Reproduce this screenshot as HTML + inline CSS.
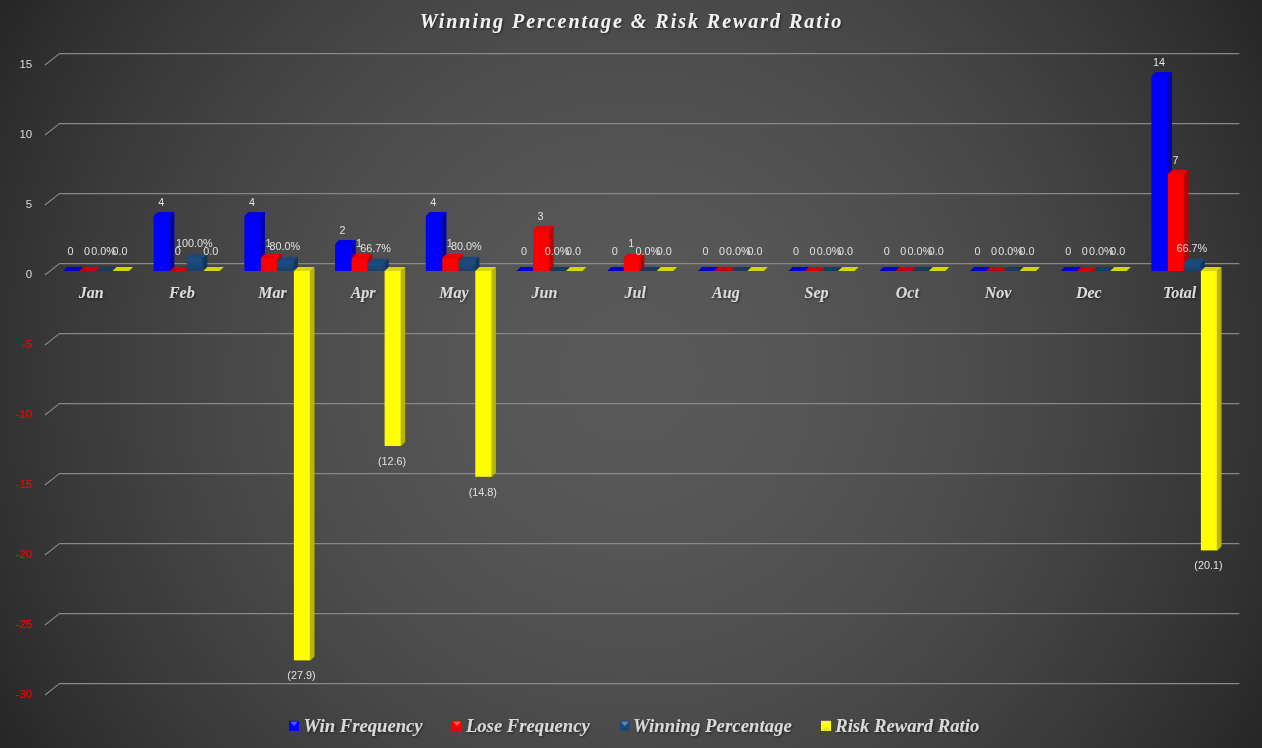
<!DOCTYPE html>
<html lang="en"><head><meta charset="utf-8"><title>Winning Percentage &amp; Risk Reward Ratio</title>
<style>html,body{margin:0;padding:0;background:#262626;overflow:hidden}svg{display:block}.ax{font-family:"Liberation Sans",sans-serif;font-size:11.5px;fill:#d9d9d9;text-anchor:end}.neg{fill:#ff0000;stroke:#ff0000;stroke-width:0.15px}.dl{font-family:"Liberation Sans",sans-serif;font-size:10.8px;fill:#e0e0e0;text-anchor:middle}.cat{font-family:"Liberation Serif",serif;font-weight:bold;font-style:italic;font-size:16px;fill:#dadada;text-anchor:middle}.ttl{font-family:"Liberation Serif",serif;font-weight:bold;font-style:italic;font-size:20px;fill:#f2f2f2;text-anchor:middle;letter-spacing:1.97px}.lg{font-family:"Liberation Serif",serif;font-weight:bold;font-style:italic;font-size:18.67px;fill:#d9d9d9}</style></head><body>
<svg width="1262" height="748" viewBox="0 0 1262 748">
<defs><radialGradient id="bg" gradientUnits="userSpaceOnUse" cx="631" cy="374" r="733.5"><stop offset="0.000" stop-color="#595959"/><stop offset="0.025" stop-color="#595959"/><stop offset="0.050" stop-color="#595959"/><stop offset="0.075" stop-color="#595959"/><stop offset="0.100" stop-color="#585858"/><stop offset="0.125" stop-color="#585858"/><stop offset="0.150" stop-color="#575757"/><stop offset="0.175" stop-color="#575757"/><stop offset="0.200" stop-color="#565656"/><stop offset="0.225" stop-color="#565656"/><stop offset="0.250" stop-color="#555555"/><stop offset="0.275" stop-color="#545454"/><stop offset="0.300" stop-color="#535353"/><stop offset="0.325" stop-color="#525252"/><stop offset="0.350" stop-color="#515151"/><stop offset="0.375" stop-color="#505050"/><stop offset="0.400" stop-color="#4f4f4f"/><stop offset="0.425" stop-color="#4e4e4e"/><stop offset="0.450" stop-color="#4d4d4d"/><stop offset="0.475" stop-color="#4c4c4c"/><stop offset="0.500" stop-color="#4a4a4a"/><stop offset="0.525" stop-color="#494949"/><stop offset="0.550" stop-color="#484848"/><stop offset="0.575" stop-color="#464646"/><stop offset="0.600" stop-color="#454545"/><stop offset="0.625" stop-color="#434343"/><stop offset="0.650" stop-color="#424242"/><stop offset="0.675" stop-color="#404040"/><stop offset="0.700" stop-color="#3e3e3e"/><stop offset="0.725" stop-color="#3c3c3c"/><stop offset="0.750" stop-color="#3b3b3b"/><stop offset="0.775" stop-color="#393939"/><stop offset="0.800" stop-color="#373737"/><stop offset="0.825" stop-color="#353535"/><stop offset="0.850" stop-color="#333333"/><stop offset="0.875" stop-color="#313131"/><stop offset="0.900" stop-color="#2f2f2f"/><stop offset="0.925" stop-color="#2d2d2d"/><stop offset="0.950" stop-color="#2a2a2a"/><stop offset="0.975" stop-color="#282828"/><stop offset="1.000" stop-color="#262626"/></radialGradient><filter id="sh" x="-10%" y="-30%" width="120%" height="170%"><feDropShadow dx="1.2" dy="1.2" stdDeviation="1" flood-color="#000" flood-opacity="0.5"/></filter><linearGradient id="nv" x1="0" y1="0" x2="0" y2="1"><stop offset="0" stop-color="#1d5084"/><stop offset="1" stop-color="#17406b"/></linearGradient></defs>
<rect width="1262" height="748" fill="url(#bg)"/>
<g fill="none" stroke="#888888" stroke-width="1.15" stroke-linejoin="round" stroke-linecap="round">
<polyline points="45.3,64.7 59.4,53.6 1239,53.6"/>
<polyline points="45.3,134.7 59.4,123.6 1239,123.6"/>
<polyline points="45.3,204.7 59.4,193.6 1239,193.6"/>
<polyline points="45.3,274.7 59.4,263.6 1239,263.6"/>
<polyline points="45.3,344.7 59.4,333.6 1239,333.6"/>
<polyline points="45.3,414.7 59.4,403.6 1239,403.6"/>
<polyline points="45.3,484.7 59.4,473.6 1239,473.6"/>
<polyline points="45.3,554.7 59.4,543.6 1239,543.6"/>
<polyline points="45.3,624.7 59.4,613.6 1239,613.6"/>
<polyline points="45.3,694.7 59.4,683.6 1239,683.6"/>
</g>
<g class="ax">
<text x="32.2" y="67.5">15</text>
<text x="32.2" y="137.5">10</text>
<text x="32.2" y="207.5">5</text>
<text x="32.2" y="277.5">0</text>
<text x="32.2" y="347.5" class="neg">-5</text>
<text x="32.2" y="417.5" class="neg">-10</text>
<text x="32.2" y="487.5" class="neg">-15</text>
<text x="32.2" y="557.5" class="neg">-20</text>
<text x="32.2" y="627.5" class="neg">-25</text>
<text x="32.2" y="697.5" class="neg">-30</text>
</g>
<g>
<polygon points="63.0,270.9 79.5,270.9 83.6,266.9 67.1,266.9" fill="#0000cc"/>
<polygon points="79.5,270.9 96.0,270.9 100.1,266.9 83.6,266.9" fill="#cc0000"/>
<polygon points="96.0,270.9 112.5,270.9 116.6,266.9 100.1,266.9" fill="#173a5e"/>
<polygon points="112.5,270.9 129.0,270.9 133.1,266.9 116.6,266.9" fill="#d4d400"/>
<path d="M153.7,217.5 Q153.7,215.9 154.8,214.8 L156.5,213.1 Q157.8,211.9 159.4,211.9 L173.1,211.9 Q174.3,211.9 174.3,213.1 L170.2,217.5 Z" fill="#0000e8"/>
<path d="M170.2,270.9 L174.3,266.9 L174.3,213.1 Q174.3,212.2 173.5,212.7 L170.2,216.3 Z" fill="#0000b2"/>
<path d="M153.7,270.9 L153.7,217.5 Q153.7,215.9 155.3,215.9 L170.2,215.9 L170.2,270.9 Z" fill="#0000ff"/>
<rect x="154.5" y="215.9" width="15.7" height="1.6" fill="#0000e8" opacity="0.55"/>
<rect x="169.2" y="216.4" width="1.0" height="54.5" fill="#0000b2" opacity="0.45"/>
<polygon points="170.2,270.9 186.7,270.9 190.8,266.9 174.3,266.9" fill="#cc0000"/>
<path d="M186.7,259.5 Q186.7,257.9 187.8,256.8 L189.5,255.1 Q190.8,253.9 192.4,253.9 L206.1,253.9 Q207.3,253.9 207.3,255.1 L203.2,259.5 Z" fill="#1b4878"/>
<path d="M203.2,270.9 L207.3,266.9 L207.3,255.1 Q207.3,254.2 206.5,254.7 L203.2,258.3 Z" fill="#133657"/>
<path d="M186.7,270.9 L186.7,259.5 Q186.7,257.9 188.3,257.9 L203.2,257.9 L203.2,270.9 Z" fill="url(#nv)"/>
<rect x="187.5" y="257.9" width="15.7" height="1.6" fill="#1b4878" opacity="0.55"/>
<rect x="202.2" y="258.4" width="1.0" height="12.5" fill="#133657" opacity="0.45"/>
<polygon points="203.2,270.9 219.7,270.9 223.8,266.9 207.3,266.9" fill="#d4d400"/>
<path d="M244.4,217.5 Q244.4,215.9 245.5,214.8 L247.2,213.1 Q248.5,211.9 250.1,211.9 L263.8,211.9 Q265.0,211.9 265.0,213.1 L260.9,217.5 Z" fill="#0000e8"/>
<path d="M260.9,270.9 L265.0,266.9 L265.0,213.1 Q265.0,212.2 264.2,212.7 L260.9,216.3 Z" fill="#0000b2"/>
<path d="M244.4,270.9 L244.4,217.5 Q244.4,215.9 246.0,215.9 L260.9,215.9 L260.9,270.9 Z" fill="#0000ff"/>
<rect x="245.2" y="215.9" width="15.7" height="1.6" fill="#0000e8" opacity="0.55"/>
<rect x="259.9" y="216.4" width="1.0" height="54.5" fill="#0000b2" opacity="0.45"/>
<path d="M260.9,259.5 Q260.9,257.9 262.0,256.8 L263.7,255.1 Q265.0,253.9 266.6,253.9 L280.3,253.9 Q281.5,253.9 281.5,255.1 L277.4,259.5 Z" fill="#ec0000"/>
<path d="M277.4,270.9 L281.5,266.9 L281.5,255.1 Q281.5,254.2 280.7,254.7 L277.4,258.3 Z" fill="#b80000"/>
<path d="M260.9,270.9 L260.9,259.5 Q260.9,257.9 262.5,257.9 L277.4,257.9 L277.4,270.9 Z" fill="#ff0000"/>
<rect x="261.7" y="257.9" width="15.7" height="1.6" fill="#ec0000" opacity="0.55"/>
<rect x="276.4" y="258.4" width="1.0" height="12.5" fill="#b80000" opacity="0.45"/>
<path d="M277.4,262.3 Q277.4,260.7 278.5,259.6 L280.2,257.9 Q281.5,256.7 283.1,256.7 L296.8,256.7 Q298.0,256.7 298.0,257.9 L293.9,262.3 Z" fill="#1b4878"/>
<path d="M293.9,270.9 L298.0,266.9 L298.0,257.9 Q298.0,257.0 297.2,257.5 L293.9,261.1 Z" fill="#133657"/>
<path d="M277.4,270.9 L277.4,262.3 Q277.4,260.7 279.0,260.7 L293.9,260.7 L293.9,270.9 Z" fill="url(#nv)"/>
<rect x="278.2" y="260.7" width="15.7" height="1.6" fill="#1b4878" opacity="0.55"/>
<rect x="292.9" y="261.2" width="1.0" height="9.7" fill="#133657" opacity="0.45"/>
<polygon points="310.4,270.9 314.5,266.9 314.5,656.4 310.4,660.4" fill="#b6b600"/>
<polygon points="293.9,270.9 310.4,270.9 314.5,266.9 298.0,266.9" fill="#d8d800"/>
<rect x="293.9" y="270.9" width="16.5" height="389.5" fill="#ffff00"/>
<rect x="309.4" y="270.9" width="1.0" height="389.5" fill="#b6b600" opacity="0.4"/>
<path d="M335.1,245.5 Q335.1,243.9 336.2,242.8 L337.9,241.1 Q339.2,239.9 340.8,239.9 L354.5,239.9 Q355.7,239.9 355.7,241.1 L351.6,245.5 Z" fill="#0000e8"/>
<path d="M351.6,270.9 L355.7,266.9 L355.7,241.1 Q355.7,240.2 354.9,240.7 L351.6,244.3 Z" fill="#0000b2"/>
<path d="M335.1,270.9 L335.1,245.5 Q335.1,243.9 336.7,243.9 L351.6,243.9 L351.6,270.9 Z" fill="#0000ff"/>
<rect x="335.9" y="243.9" width="15.7" height="1.6" fill="#0000e8" opacity="0.55"/>
<rect x="350.6" y="244.4" width="1.0" height="26.5" fill="#0000b2" opacity="0.45"/>
<path d="M351.6,259.5 Q351.6,257.9 352.7,256.8 L354.4,255.1 Q355.7,253.9 357.3,253.9 L371.0,253.9 Q372.2,253.9 372.2,255.1 L368.1,259.5 Z" fill="#ec0000"/>
<path d="M368.1,270.9 L372.2,266.9 L372.2,255.1 Q372.2,254.2 371.4,254.7 L368.1,258.3 Z" fill="#b80000"/>
<path d="M351.6,270.9 L351.6,259.5 Q351.6,257.9 353.2,257.9 L368.1,257.9 L368.1,270.9 Z" fill="#ff0000"/>
<rect x="352.4" y="257.9" width="15.7" height="1.6" fill="#ec0000" opacity="0.55"/>
<rect x="367.1" y="258.4" width="1.0" height="12.5" fill="#b80000" opacity="0.45"/>
<path d="M368.1,264.2 Q368.1,262.6 369.2,261.5 L370.9,259.8 Q372.2,258.6 373.8,258.6 L387.5,258.6 Q388.7,258.6 388.7,259.8 L384.6,264.2 Z" fill="#1b4878"/>
<path d="M384.6,270.9 L388.7,266.9 L388.7,259.8 Q388.7,258.9 387.9,259.4 L384.6,263.0 Z" fill="#133657"/>
<path d="M368.1,270.9 L368.1,264.2 Q368.1,262.6 369.7,262.6 L384.6,262.6 L384.6,270.9 Z" fill="url(#nv)"/>
<rect x="368.9" y="262.6" width="15.7" height="1.6" fill="#1b4878" opacity="0.55"/>
<rect x="383.6" y="263.1" width="1.0" height="7.8" fill="#133657" opacity="0.45"/>
<polygon points="401.1,270.9 405.2,266.9 405.2,442.0 401.1,446.0" fill="#b6b600"/>
<polygon points="384.6,270.9 401.1,270.9 405.2,266.9 388.7,266.9" fill="#d8d800"/>
<rect x="384.6" y="270.9" width="16.5" height="175.1" fill="#ffff00"/>
<rect x="400.1" y="270.9" width="1.0" height="175.1" fill="#b6b600" opacity="0.4"/>
<path d="M425.8,217.5 Q425.8,215.9 426.9,214.8 L428.6,213.1 Q429.9,211.9 431.5,211.9 L445.2,211.9 Q446.4,211.9 446.4,213.1 L442.3,217.5 Z" fill="#0000e8"/>
<path d="M442.3,270.9 L446.4,266.9 L446.4,213.1 Q446.4,212.2 445.6,212.7 L442.3,216.3 Z" fill="#0000b2"/>
<path d="M425.8,270.9 L425.8,217.5 Q425.8,215.9 427.4,215.9 L442.3,215.9 L442.3,270.9 Z" fill="#0000ff"/>
<rect x="426.6" y="215.9" width="15.7" height="1.6" fill="#0000e8" opacity="0.55"/>
<rect x="441.3" y="216.4" width="1.0" height="54.5" fill="#0000b2" opacity="0.45"/>
<path d="M442.3,259.5 Q442.3,257.9 443.4,256.8 L445.1,255.1 Q446.4,253.9 448.0,253.9 L461.7,253.9 Q462.9,253.9 462.9,255.1 L458.8,259.5 Z" fill="#ec0000"/>
<path d="M458.8,270.9 L462.9,266.9 L462.9,255.1 Q462.9,254.2 462.1,254.7 L458.8,258.3 Z" fill="#b80000"/>
<path d="M442.3,270.9 L442.3,259.5 Q442.3,257.9 443.9,257.9 L458.8,257.9 L458.8,270.9 Z" fill="#ff0000"/>
<rect x="443.1" y="257.9" width="15.7" height="1.6" fill="#ec0000" opacity="0.55"/>
<rect x="457.8" y="258.4" width="1.0" height="12.5" fill="#b80000" opacity="0.45"/>
<path d="M458.8,262.3 Q458.8,260.7 459.9,259.6 L461.6,257.9 Q462.9,256.7 464.5,256.7 L478.2,256.7 Q479.4,256.7 479.4,257.9 L475.3,262.3 Z" fill="#1b4878"/>
<path d="M475.3,270.9 L479.4,266.9 L479.4,257.9 Q479.4,257.0 478.6,257.5 L475.3,261.1 Z" fill="#133657"/>
<path d="M458.8,270.9 L458.8,262.3 Q458.8,260.7 460.4,260.7 L475.3,260.7 L475.3,270.9 Z" fill="url(#nv)"/>
<rect x="459.6" y="260.7" width="15.7" height="1.6" fill="#1b4878" opacity="0.55"/>
<rect x="474.3" y="261.2" width="1.0" height="9.7" fill="#133657" opacity="0.45"/>
<polygon points="491.8,270.9 495.9,266.9 495.9,472.8 491.8,476.8" fill="#b6b600"/>
<polygon points="475.3,270.9 491.8,270.9 495.9,266.9 479.4,266.9" fill="#d8d800"/>
<rect x="475.3" y="270.9" width="16.5" height="205.9" fill="#ffff00"/>
<rect x="490.8" y="270.9" width="1.0" height="205.9" fill="#b6b600" opacity="0.4"/>
<polygon points="516.5,270.9 533.0,270.9 537.1,266.9 520.6,266.9" fill="#0000cc"/>
<path d="M533.0,231.5 Q533.0,229.9 534.1,228.8 L535.8,227.1 Q537.1,225.9 538.7,225.9 L552.4,225.9 Q553.6,225.9 553.6,227.1 L549.5,231.5 Z" fill="#ec0000"/>
<path d="M549.5,270.9 L553.6,266.9 L553.6,227.1 Q553.6,226.2 552.8,226.7 L549.5,230.3 Z" fill="#b80000"/>
<path d="M533.0,270.9 L533.0,231.5 Q533.0,229.9 534.6,229.9 L549.5,229.9 L549.5,270.9 Z" fill="#ff0000"/>
<rect x="533.8" y="229.9" width="15.7" height="1.6" fill="#ec0000" opacity="0.55"/>
<rect x="548.5" y="230.4" width="1.0" height="40.5" fill="#b80000" opacity="0.45"/>
<polygon points="549.5,270.9 566.0,270.9 570.1,266.9 553.6,266.9" fill="#173a5e"/>
<polygon points="566.0,270.9 582.5,270.9 586.6,266.9 570.1,266.9" fill="#d4d400"/>
<polygon points="607.2,270.9 623.7,270.9 627.8,266.9 611.3,266.9" fill="#0000cc"/>
<path d="M623.7,259.5 Q623.7,257.9 624.8,256.8 L626.5,255.1 Q627.8,253.9 629.4,253.9 L643.1,253.9 Q644.3,253.9 644.3,255.1 L640.2,259.5 Z" fill="#ec0000"/>
<path d="M640.2,270.9 L644.3,266.9 L644.3,255.1 Q644.3,254.2 643.5,254.7 L640.2,258.3 Z" fill="#b80000"/>
<path d="M623.7,270.9 L623.7,259.5 Q623.7,257.9 625.3,257.9 L640.2,257.9 L640.2,270.9 Z" fill="#ff0000"/>
<rect x="624.5" y="257.9" width="15.7" height="1.6" fill="#ec0000" opacity="0.55"/>
<rect x="639.2" y="258.4" width="1.0" height="12.5" fill="#b80000" opacity="0.45"/>
<polygon points="640.2,270.9 656.7,270.9 660.8,266.9 644.3,266.9" fill="#173a5e"/>
<polygon points="656.7,270.9 673.2,270.9 677.3,266.9 660.8,266.9" fill="#d4d400"/>
<polygon points="697.9,270.9 714.4,270.9 718.5,266.9 702.0,266.9" fill="#0000cc"/>
<polygon points="714.4,270.9 730.9,270.9 735.0,266.9 718.5,266.9" fill="#cc0000"/>
<polygon points="730.9,270.9 747.4,270.9 751.5,266.9 735.0,266.9" fill="#173a5e"/>
<polygon points="747.4,270.9 763.9,270.9 768.0,266.9 751.5,266.9" fill="#d4d400"/>
<polygon points="788.6,270.9 805.1,270.9 809.2,266.9 792.7,266.9" fill="#0000cc"/>
<polygon points="805.1,270.9 821.6,270.9 825.7,266.9 809.2,266.9" fill="#cc0000"/>
<polygon points="821.6,270.9 838.1,270.9 842.2,266.9 825.7,266.9" fill="#173a5e"/>
<polygon points="838.1,270.9 854.6,270.9 858.7,266.9 842.2,266.9" fill="#d4d400"/>
<polygon points="879.3,270.9 895.8,270.9 899.9,266.9 883.4,266.9" fill="#0000cc"/>
<polygon points="895.8,270.9 912.3,270.9 916.4,266.9 899.9,266.9" fill="#cc0000"/>
<polygon points="912.3,270.9 928.8,270.9 932.9,266.9 916.4,266.9" fill="#173a5e"/>
<polygon points="928.8,270.9 945.3,270.9 949.4,266.9 932.9,266.9" fill="#d4d400"/>
<polygon points="970.0,270.9 986.5,270.9 990.6,266.9 974.1,266.9" fill="#0000cc"/>
<polygon points="986.5,270.9 1003.0,270.9 1007.1,266.9 990.6,266.9" fill="#cc0000"/>
<polygon points="1003.0,270.9 1019.5,270.9 1023.6,266.9 1007.1,266.9" fill="#173a5e"/>
<polygon points="1019.5,270.9 1036.0,270.9 1040.1,266.9 1023.6,266.9" fill="#d4d400"/>
<polygon points="1060.7,270.9 1077.2,270.9 1081.3,266.9 1064.8,266.9" fill="#0000cc"/>
<polygon points="1077.2,270.9 1093.7,270.9 1097.8,266.9 1081.3,266.9" fill="#cc0000"/>
<polygon points="1093.7,270.9 1110.2,270.9 1114.3,266.9 1097.8,266.9" fill="#173a5e"/>
<polygon points="1110.2,270.9 1126.7,270.9 1130.8,266.9 1114.3,266.9" fill="#d4d400"/>
<path d="M1151.4,77.5 Q1151.4,75.9 1152.5,74.8 L1154.2,73.1 Q1155.5,71.9 1157.1,71.9 L1170.8,71.9 Q1172.0,71.9 1172.0,73.1 L1167.9,77.5 Z" fill="#0000e8"/>
<path d="M1167.9,270.9 L1172.0,266.9 L1172.0,73.1 Q1172.0,72.2 1171.2,72.7 L1167.9,76.3 Z" fill="#0000b2"/>
<path d="M1151.4,270.9 L1151.4,77.5 Q1151.4,75.9 1153.0,75.9 L1167.9,75.9 L1167.9,270.9 Z" fill="#0000ff"/>
<rect x="1152.2" y="75.9" width="15.7" height="1.6" fill="#0000e8" opacity="0.55"/>
<rect x="1166.9" y="76.4" width="1.0" height="194.5" fill="#0000b2" opacity="0.45"/>
<path d="M1167.9,175.5 Q1167.9,173.9 1169.0,172.8 L1170.7,171.1 Q1172.0,169.9 1173.6,169.9 L1187.3,169.9 Q1188.5,169.9 1188.5,171.1 L1184.4,175.5 Z" fill="#ec0000"/>
<path d="M1184.4,270.9 L1188.5,266.9 L1188.5,171.1 Q1188.5,170.2 1187.7,170.7 L1184.4,174.3 Z" fill="#b80000"/>
<path d="M1167.9,270.9 L1167.9,175.5 Q1167.9,173.9 1169.5,173.9 L1184.4,173.9 L1184.4,270.9 Z" fill="#ff0000"/>
<rect x="1168.7" y="173.9" width="15.7" height="1.6" fill="#ec0000" opacity="0.55"/>
<rect x="1183.4" y="174.4" width="1.0" height="96.5" fill="#b80000" opacity="0.45"/>
<path d="M1184.4,264.2 Q1184.4,262.6 1185.5,261.5 L1187.2,259.8 Q1188.5,258.6 1190.1,258.6 L1203.8,258.6 Q1205.0,258.6 1205.0,259.8 L1200.9,264.2 Z" fill="#1b4878"/>
<path d="M1200.9,270.9 L1205.0,266.9 L1205.0,259.8 Q1205.0,258.9 1204.2,259.4 L1200.9,263.0 Z" fill="#133657"/>
<path d="M1184.4,270.9 L1184.4,264.2 Q1184.4,262.6 1186.0,262.6 L1200.9,262.6 L1200.9,270.9 Z" fill="url(#nv)"/>
<rect x="1185.2" y="262.6" width="15.7" height="1.6" fill="#1b4878" opacity="0.55"/>
<rect x="1199.9" y="263.1" width="1.0" height="7.8" fill="#133657" opacity="0.45"/>
<polygon points="1217.4,270.9 1221.5,266.9 1221.5,546.4 1217.4,550.4" fill="#b6b600"/>
<polygon points="1200.9,270.9 1217.4,270.9 1221.5,266.9 1205.0,266.9" fill="#d8d800"/>
<rect x="1200.9" y="270.9" width="16.5" height="279.5" fill="#ffff00"/>
<rect x="1216.4" y="270.9" width="1.0" height="279.5" fill="#b6b600" opacity="0.4"/>
</g>
<g class="dl">
<text x="70.5" y="254.7">0</text>
<text x="87.0" y="254.7">0</text>
<text x="103.5" y="254.7">0.0%</text>
<text x="120.0" y="254.7">0.0</text>
<text x="161.2" y="205.8">4</text>
<text x="177.7" y="254.7">0</text>
<text x="194.2" y="246.6">100.0%</text>
<text x="210.7" y="254.7">0.0</text>
<text x="251.9" y="205.8">4</text>
<text x="268.4" y="246.6">1</text>
<text x="284.9" y="249.8">80.0%</text>
<text x="301.4" y="679.2">(27.9)</text>
<text x="342.6" y="234.0">2</text>
<text x="359.1" y="246.6">1</text>
<text x="375.6" y="251.9">66.7%</text>
<text x="392.1" y="464.8">(12.6)</text>
<text x="433.3" y="205.8">4</text>
<text x="449.8" y="246.6">1</text>
<text x="466.3" y="249.8">80.0%</text>
<text x="482.8" y="495.6">(14.8)</text>
<text x="524.0" y="254.7">0</text>
<text x="540.5" y="219.5">3</text>
<text x="557.0" y="254.7">0.0%</text>
<text x="573.5" y="254.7">0.0</text>
<text x="614.7" y="254.7">0</text>
<text x="631.2" y="246.6">1</text>
<text x="647.7" y="254.7">0.0%</text>
<text x="664.2" y="254.7">0.0</text>
<text x="705.4" y="254.7">0</text>
<text x="721.9" y="254.7">0</text>
<text x="738.4" y="254.7">0.0%</text>
<text x="754.9" y="254.7">0.0</text>
<text x="796.1" y="254.7">0</text>
<text x="812.6" y="254.7">0</text>
<text x="829.1" y="254.7">0.0%</text>
<text x="845.6" y="254.7">0.0</text>
<text x="886.8" y="254.7">0</text>
<text x="903.3" y="254.7">0</text>
<text x="919.8" y="254.7">0.0%</text>
<text x="936.3" y="254.7">0.0</text>
<text x="977.5" y="254.7">0</text>
<text x="994.0" y="254.7">0</text>
<text x="1010.5" y="254.7">0.0%</text>
<text x="1027.0" y="254.7">0.0</text>
<text x="1068.2" y="254.7">0</text>
<text x="1084.7" y="254.7">0</text>
<text x="1101.2" y="254.7">0.0%</text>
<text x="1117.7" y="254.7">0.0</text>
<text x="1158.9" y="65.9">14</text>
<text x="1175.4" y="163.7">7</text>
<text x="1191.9" y="251.9">66.7%</text>
<text x="1208.4" y="569.1">(20.1)</text>
</g>
<g class="cat" filter="url(#sh)">
<text x="91.1" y="297.8">Jan</text>
<text x="181.8" y="297.8">Feb</text>
<text x="272.4" y="297.8">Mar</text>
<text x="363.1" y="297.8">Apr</text>
<text x="453.9" y="297.8">May</text>
<text x="544.5" y="297.8">Jun</text>
<text x="635.2" y="297.8">Jul</text>
<text x="725.9" y="297.8">Aug</text>
<text x="816.6" y="297.8">Sep</text>
<text x="907.3" y="297.8">Oct</text>
<text x="998.0" y="297.8">Nov</text>
<text x="1088.8" y="297.8">Dec</text>
<text x="1179.5" y="297.8">Total</text>
</g>
<text class="ttl" filter="url(#sh)" x="631.5" y="27.8">Winning Percentage &amp; Risk Reward Ratio</text>
<g>
<rect x="289" y="720.8" width="10" height="10.1" fill="#0000ff"/>
<polygon points="290.2,721.8 297.8,721.8 294.0,726.0" fill="#ffffff" opacity="0.34"/>
<polygon points="290.5,730.0 297.5,730.0 294.0,726.6" fill="#000000" opacity="0.10"/>
<text class="lg" filter="url(#sh)" x="303.6" y="731.8">Win Frequency</text>
<rect x="452" y="720.8" width="10" height="10.1" fill="#ff0000"/>
<polygon points="453.2,721.8 460.8,721.8 457.0,726.0" fill="#ffffff" opacity="0.34"/>
<polygon points="453.5,730.0 460.5,730.0 457.0,726.6" fill="#000000" opacity="0.10"/>
<text class="lg" filter="url(#sh)" x="465.9" y="731.8">Lose Frequency</text>
<rect x="619.8" y="720.8" width="10" height="10.1" fill="#1b4b7c"/>
<polygon points="621.0,721.8 628.6,721.8 624.8,726.0" fill="#ffffff" opacity="0.34"/>
<polygon points="621.3,730.0 628.3,730.0 624.8,726.6" fill="#000000" opacity="0.10"/>
<text class="lg" filter="url(#sh)" x="633.0" y="731.8" style="letter-spacing:0.09px">Winning Percentage</text>
<rect x="821" y="720.8" width="10" height="10.1" fill="#ffff00"/>
<polygon points="822.2,721.8 829.8,721.8 826.0,726.0" fill="#ffffff" opacity="0.34"/>
<polygon points="822.5,730.0 829.5,730.0 826.0,726.6" fill="#000000" opacity="0.10"/>
<text class="lg" filter="url(#sh)" x="835.2" y="731.8">Risk Reward Ratio</text>
</g>
</svg></body></html>
